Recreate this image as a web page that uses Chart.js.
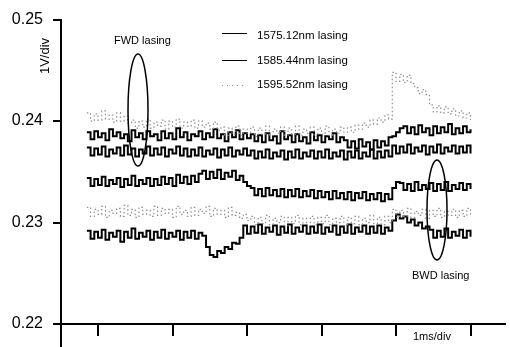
<!DOCTYPE html>
<html>
<head>
<meta charset="utf-8">
<script src="https://cdn.jsdelivr.net/npm/chart.js@4.4.0/dist/chart.umd.min.js"></script>
<style>
  html, body { margin: 0; padding: 0; background: #fff; }
</style>
</head>
<body>
<canvas id="chart" width="510" height="347"></canvas>
<script>
// time in ms (1ms/div), voltages in mV
const timeMs = [
  0.85, 0.90, 0.95, 1.00, 1.05, 1.10, 1.15, 1.20, 1.25, 1.30, 1.35, 1.40, 1.45, 1.50, 1.55, 1.60, 1.65, 1.70, 1.75, 1.80,
  1.85, 1.90, 1.95, 2.00, 2.05, 2.10, 2.15, 2.20, 2.25, 2.30, 2.35, 2.40, 2.45, 2.50, 2.55, 2.60, 2.65, 2.70, 2.75, 2.80,
  2.85, 2.90, 2.95, 3.00, 3.05, 3.10, 3.15, 3.20, 3.25, 3.30, 3.35, 3.40, 3.45, 3.50, 3.55, 3.60, 3.65, 3.70, 3.75, 3.80,
  3.85, 3.90, 3.95, 4.00, 4.05, 4.10, 4.15, 4.20, 4.25, 4.30, 4.35, 4.40, 4.45, 4.50, 4.55, 4.60, 4.65, 4.70, 4.75, 4.80,
  4.85, 4.90, 4.95, 5.00, 5.05, 5.10, 5.15, 5.20, 5.25, 5.30, 5.35, 5.40, 5.45, 5.50, 5.55, 5.60, 5.65, 5.70, 5.75, 5.80,
  5.85, 5.90, 5.95, 6.00
];

const upperBlackA = [
  238.9, 238.2, 239.0, 238.4, 238.8, 238.1, 239.2, 238.5, 238.9, 238.3, 238.7, 238.0, 239.1, 238.4, 238.8, 238.2, 239.0, 238.5, 238.7, 238.1,
  239.0, 238.3, 238.8, 238.2, 239.3, 238.4, 238.9, 238.1, 238.7, 238.5, 239.0, 238.2, 238.8, 238.4, 239.2, 238.3, 238.7, 238.0, 238.9, 238.4,
  239.1, 238.2, 238.8, 238.3,
  238.7, 238.0, 238.6, 237.9, 238.8, 238.1, 238.5, 237.8, 239.0, 238.2, 238.6, 237.9, 238.7, 238.0, 238.4, 237.8, 238.9, 238.1, 238.6, 237.9,
  238.5, 238.2, 238.8, 237.9, 238.4,
  238.1, 237.4, 238.0, 237.3, 238.2, 237.5, 237.9, 237.2, 238.1, 237.4, 238.0, 237.6, 238.4,
  238.5, 238.9, 239.3,
  239.5, 238.8, 239.4, 238.7, 239.6, 238.9, 239.3, 238.6, 239.5, 238.8, 239.4, 238.9, 239.7, 238.7, 239.3, 238.8, 239.5, 238.9, 239.2
];

const upperBlackB = [
  237.4, 236.6, 237.3, 236.7, 237.5, 236.5, 237.2, 236.8, 237.4, 236.6, 237.6, 236.7, 237.3, 236.5, 237.2, 236.8, 237.5, 236.6, 237.3, 236.7,
  237.4, 236.5, 237.2, 236.8, 237.5, 236.6,
  237.3, 236.5, 237.2, 236.6, 237.4, 236.5, 237.1, 236.7, 237.3, 236.4, 237.2, 236.6, 237.4, 236.5, 237.1, 236.7, 237.3, 236.6,
  237.1, 236.3, 237.0, 236.4, 237.2, 236.3, 236.9, 236.5, 237.1, 236.2, 237.0, 236.4, 237.2, 236.3, 236.9, 236.5, 237.1, 236.3, 237.0, 236.4,
  237.2, 236.3, 236.9, 236.5, 237.1, 236.2, 237.0, 236.4, 237.1, 236.3, 236.9, 236.5, 237.2, 236.3, 237.0, 236.4, 237.1, 236.5,
  237.6, 236.8, 237.5, 236.9, 237.7, 236.8, 237.4, 237.0, 237.6, 236.7, 237.5, 236.9, 237.7, 236.8, 237.4, 237.0, 237.6, 236.8, 237.5, 236.9,
  237.6, 236.8
];

const upperGray = [
  240.8, 240.0, 240.7, 240.1, 241.0, 240.2, 240.6, 239.9, 240.8, 240.0, 240.5, 239.8,
  240.1, 239.3, 240.0, 239.4, 240.2, 239.3, 239.9, 239.5, 240.1, 239.2, 240.0, 239.4, 240.2, 239.3, 239.9, 239.5, 240.1, 239.3, 240.0, 239.4,
  239.8, 239.2, 239.9, 239.1,
  239.4, 238.6, 239.3, 238.7, 239.5, 238.6, 239.2, 238.8, 239.4, 238.5, 239.3, 238.7, 239.5, 238.6, 239.2, 238.8, 239.4, 238.6, 239.3, 238.7,
  239.5, 238.6, 239.2, 238.8, 239.4, 238.5, 239.3, 238.7, 239.5, 238.6, 239.2, 238.8, 239.4,
  238.9, 239.4, 238.9, 239.6, 239.2, 239.8, 239.4, 240.1, 239.7, 240.3, 239.9, 240.6, 240.2,
  244.8, 243.9, 244.6, 243.8, 244.5, 243.7,
  243.3, 242.7, 243.1, 242.6,
  241.6, 240.9, 241.5, 240.8, 241.4, 240.7, 241.2, 240.5, 241.0, 240.3, 240.8, 240.1
];

const lowerBlackA = [
  234.4, 233.6, 234.3, 233.7, 234.5, 233.6, 234.2, 233.8, 234.4, 233.5, 234.3, 233.7, 234.6, 233.6, 234.2, 233.8, 234.4, 233.6, 234.3, 233.7,
  234.5, 233.8, 234.4, 233.6, 234.7, 233.9, 234.5, 233.8, 234.6, 234.0, 234.8,
  235.1, 234.3, 235.0, 234.4, 235.2, 234.3, 234.9, 234.5, 235.1, 234.2, 234.6, 234.0, 233.6,
  233.4, 232.7, 233.3, 232.6, 233.4, 232.7, 233.2, 232.6, 233.3, 232.5, 233.2, 232.6, 233.3, 232.5, 233.1, 232.6, 233.2, 232.4, 233.1, 232.5,
  233.0, 232.3, 233.1, 232.4, 232.9, 232.3, 233.0, 232.2, 232.9, 232.4, 233.0, 232.2, 232.8, 232.3, 232.9, 232.1, 232.8, 232.3,
  233.4, 234.0,
  233.9, 233.2, 233.8, 233.1, 234.0, 233.2, 233.7, 233.3, 233.9, 233.1, 233.8, 233.2, 234.0, 233.1, 233.7, 233.3, 233.9, 233.2, 233.8, 233.3
];

const lowerGray = [
  231.5, 230.6, 231.3, 230.8, 231.6, 230.5, 231.2, 230.9, 231.4, 230.6, 231.7, 230.7, 231.3, 230.5, 231.5, 230.8, 231.2, 230.6, 231.6, 230.7,
  231.4, 230.9, 231.3, 230.5, 231.6, 230.8, 231.2, 230.6, 231.5, 230.7, 231.3, 230.9, 231.6, 230.6, 231.4, 230.8, 231.2, 230.5, 231.5, 230.7,
  231.0, 230.4, 230.8, 230.2,
  230.6, 229.8, 230.5, 229.9, 230.7, 229.8, 230.4, 230.0, 230.6, 229.7, 230.5, 229.9, 230.7, 229.8, 230.4, 230.0, 230.6, 229.8, 230.5, 229.9,
  230.7, 229.8, 230.4, 230.0, 230.6, 229.7, 230.5, 229.9, 230.6, 229.8, 230.4, 230.0, 230.7, 229.9, 230.5, 229.8, 230.6, 230.0,
  231.3, 230.5, 231.2, 230.6, 231.4, 230.5, 231.1, 230.7, 231.3, 230.4, 231.2, 230.6, 231.4, 230.5, 231.1, 230.7, 231.3, 230.5, 231.2, 230.6,
  231.4, 230.7
];

const lowerBlackB = [
  229.2, 228.4, 229.1, 228.5, 229.3, 228.3, 229.0, 228.6, 229.2, 228.1, 229.1, 228.5, 229.4, 228.4, 229.0, 228.6, 229.2, 228.3, 229.1, 228.5,
  229.3, 228.4, 229.0, 228.6, 229.2, 228.3, 229.1, 228.5, 229.2, 228.4, 229.0, 228.7,
  227.6, 226.8, 226.6, 227.2, 227.0, 227.6, 227.4, 228.0, 227.9, 228.5,
  229.7, 228.9, 229.6, 229.0, 229.8, 228.9, 229.5, 229.1, 229.7, 228.8, 229.6, 229.0, 229.8, 228.9, 229.5, 229.1, 229.7, 228.9, 229.6, 229.0,
  229.8, 228.9, 229.5, 229.1, 229.7, 228.8, 229.6, 229.0, 229.8, 228.9, 229.5, 229.1, 229.7, 228.9, 229.6, 229.0, 229.7, 228.9, 229.5, 229.2,
  230.2, 230.8, 230.4, 230.6, 230.0, 230.3, 229.7, 230.0, 229.4, 229.6,
  229.3, 228.5, 229.2, 228.6, 229.4, 228.5, 229.1, 228.7, 229.3, 228.5, 229.2, 228.6
];

const legendLabels = ['1575.12nm lasing', '1585.44nm lasing', '1595.52nm lasing'];
const xTicks = [1, 2, 3, 4, 5, 6];
const yTickValues = [220, 230, 240, 250];
const yTickLabels = ['0.22', '0.23', '0.24', '0.25'];

const FONT = '"Liberation Sans", Arial, sans-serif';
const BLACK = '#000';
const GRAY = '#8e8e8e';

function points(values) {
  return values.map((v, i) => ({ x: timeMs[i], y: v }));
}

function trace(label, values, gray) {
  return {
    label: label,
    data: points(values),
    stepped: true,
    borderColor: gray ? GRAY : BLACK,
    borderWidth: gray ? 1.2 : 2,
    borderDash: gray ? [1.5, 2.5] : [],
    pointRadius: 0,
    fill: false
  };
}

// annotations, legend and the bits the axes don't draw
const notes = {
  id: 'notes',
  afterDraw(chart) {
    const ctx = chart.ctx;
    const area = chart.chartArea;
    ctx.save();
    ctx.strokeStyle = BLACK;
    ctx.fillStyle = BLACK;

    // y axis continues below the time axis
    ctx.lineWidth = 2;
    ctx.beginPath();
    ctx.moveTo(area.left, area.bottom);
    ctx.lineTo(area.left, chart.height);
    ctx.stroke();

    // legend
    const legendY = [33.5, 60.5, 85.5];
    const textY = [36, 61, 85];
    ctx.font = '11.5px ' + FONT;
    ctx.textAlign = 'left';
    ctx.textBaseline = 'middle';
    legendLabels.forEach((lab, i) => {
      const ds = chart.data.datasets.find(d => d.label === lab);
      ctx.strokeStyle = ds.borderColor;
      ctx.lineWidth = 1;
      ctx.setLineDash(ds.borderDash.length ? [1, 4] : []);
      ctx.beginPath();
      ctx.moveTo(222, legendY[i]);
      ctx.lineTo(247, legendY[i]);
      ctx.stroke();
      ctx.setLineDash([]);
      ctx.fillText(lab, 257, textY[i]);
    });

    ctx.strokeStyle = BLACK;
    ctx.font = '11px ' + FONT;
    ctx.fillText('FWD lasing', 114, 41);
    ctx.fillText('BWD lasing', 412, 276);
    ctx.fillText('1ms/div', 413, 337);

    ctx.lineWidth = 1.5;
    ctx.beginPath();
    ctx.ellipse(138, 110, 10, 56, 0, 0, Math.PI * 2);
    ctx.stroke();
    ctx.beginPath();
    ctx.ellipse(437, 210, 10, 50, 0, 0, Math.PI * 2);
    ctx.stroke();

    ctx.translate(45, 56);
    ctx.rotate(-Math.PI / 2);
    ctx.textAlign = 'center';
    ctx.font = '13px ' + FONT;
    ctx.fillText('1V/div', 0, 0);
    ctx.restore();
  }
};

const ctx = document.getElementById('chart').getContext('2d');
const myChart = new Chart(ctx, {
  type: 'line',
  data: {
    datasets: [
      trace('1595.52nm lasing', upperGray, true),
      trace('1595.52nm lasing', lowerGray, true),
      trace('1575.12nm lasing', upperBlackA, false),
      trace('1585.44nm lasing', upperBlackB, false),
      trace('1575.12nm lasing', lowerBlackA, false),
      trace('1585.44nm lasing', lowerBlackB, false)
    ]
  },
  options: {
    responsive: false,
    animation: false,
    devicePixelRatio: 1,
    layout: { padding: { top: 13, right: 5, bottom: 0, left: 0 } },
    plugins: { legend: { display: false }, tooltip: { enabled: false } },
    scales: {
      x: {
        type: 'linear',
        min: 0.503,
        max: 6.463,
        afterBuildTicks: s => { s.ticks = xTicks.map(v => ({ value: v })); },
        afterFit: s => { s.height = 23; },
        ticks: { autoSkip: false, callback: () => '' },
        grid: { drawOnChartArea: false, tickLength: 12, color: BLACK, lineWidth: 2 },
        border: { color: BLACK, width: 2 }
      },
      y: {
        type: 'linear',
        min: 220,
        max: 250,
        afterBuildTicks: s => { s.ticks = yTickValues.map(v => ({ value: v })); },
        afterFit: s => { s.width = 61; },
        ticks: {
          autoSkip: false,
          padding: 10,
          color: BLACK,
          font: { family: FONT, size: 16 },
          callback: (value, index) => yTickLabels[index]
        },
        grid: { drawOnChartArea: false, tickLength: 8, color: BLACK, lineWidth: 2 },
        border: { color: BLACK, width: 2 }
      }
    }
  },
  plugins: [notes]
});
</script>
</body>
</html>
